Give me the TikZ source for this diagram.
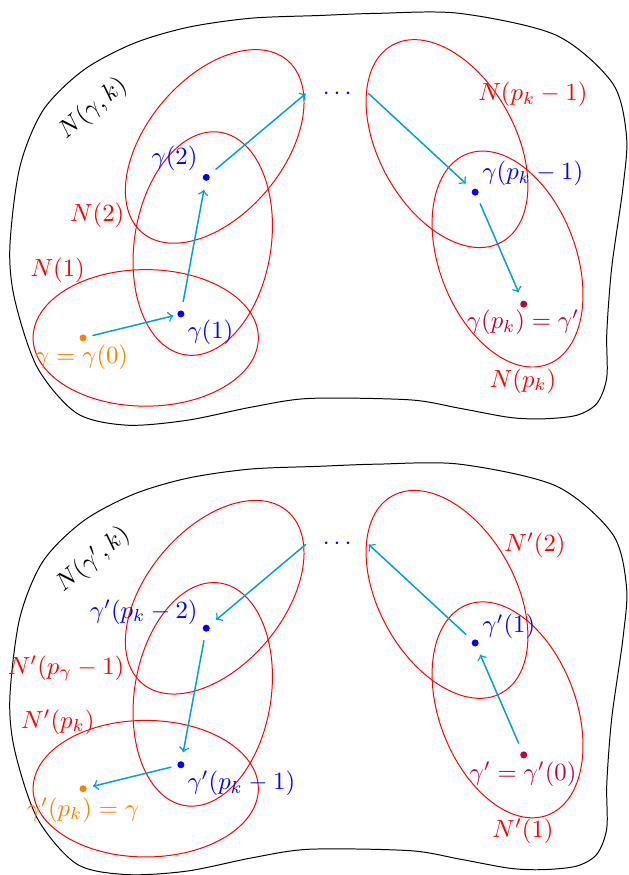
\documentclass[tikz,border=0pt]{standalone}
\usetikzlibrary{positioning}
\definecolor{walkcyan}{RGB}{0,160,210}

\begin{document}
\begin{tikzpicture}[line cap=round, line join=round,
  pt/.style={circle, fill, inner sep=0pt, minimum size=0.1cm},
  nbhd/.style={red},
  walk/.style={->, semithick, walkcyan, shorten <=3.5pt, shorten >=3.5pt},
  dotsnode/.style={blue, inner sep=0pt, minimum width=0.88cm}]

\useasboundingbox (0,0) rectangle (8.93,12.43);

% top: path from gamma to gamma'
\draw plot[smooth cycle] coordinates {(4.54,12.21) (3.55,12.17) (2.66,12.04) (1.89,11.81) (1.18,11.43) (0.61,10.86) (0.28,10.05) (0.14,8.92) (0.21,8.17) (0.53,7.21) (1.09,6.56) (1.80,6.39) (2.66,6.46) (3.59,6.65) (4.40,6.77) (5.82,6.75) (6.53,6.63) (7.24,6.50) (7.71,6.48) (8.19,6.53) (8.48,6.70) (8.62,7.07) (8.62,7.70) (8.69,8.63) (8.85,9.77) (8.90,10.50) (8.70,11.25) (7.90,11.93) (6.53,12.24) (5.35,12.24)};

\draw[nbhd] (2.07,7.63) ellipse [x radius=1.6, y radius=0.97];
\draw[nbhd, rotate around={81:(2.88,8.97)}] (2.88,8.97) ellipse [x radius=1.6, y radius=0.97];
\draw[nbhd, rotate around={50:(3.05,10.35)}] (3.05,10.35) ellipse [x radius=1.6, y radius=0.97];
\draw[nbhd, rotate around={-61:(6.35,10.39)}] (6.35,10.39) ellipse [x radius=1.6, y radius=0.97];
\draw[nbhd, rotate around={-69:(7.21,8.75)}] (7.21,8.75) ellipse [x radius=1.6, y radius=0.97];

\node[pt, orange] (g0) at (1.18,7.63) {};
\node[pt, blue] (g1) at (2.57,7.97) {};
\node[pt, blue] (g2) at (2.93,9.91) {};
\node[dotsnode] (dots) at (4.79,11.10) {$\cdots$};
\node[pt, blue] (gq1) at (6.75,9.70) {};
\node[pt, purple] (gq) at (7.44,8.11) {};

\draw[walk, shorten <=2.5pt, shorten >=1.5pt] (g0) -- (g1);
\draw[walk] (g1) -- (g2);
\draw[walk, shorten >=0pt] (g2) -- (dots.west);
\draw[walk, shorten <=0pt] (dots.east) -- (gq1);
\draw[walk] (gq1) -- (gq);

\node[rotate=40] (lk) at (1.32,10.89) {$N(\gamma,k)$};
\node[blue, anchor=east] (lg2) at (2.93,10.18) {$\gamma(2)$};
\node[red, anchor=east] (ln2) at (1.89,9.37) {$N(2)$};
\node[red] (ln1) at (0.82,8.59) {$N(1)$};
\node[blue, anchor=west] (lg1) at (2.54,7.71) {$\gamma(1)$};
\node[orange] (lg0) at (1.16,7.36) {$\gamma=\gamma(0)$};
\node[red] (lnq1) at (7.57,11.09) {$N(p_k-1)$};
\node[blue, anchor=west] (lgq1) at (6.73,9.97) {$\gamma(p_k-1)$};
\node[purple] (lgq) at (7.43,7.85) {$\gamma(p_k)=\gamma'$};
\node[red] (lnq) at (7.43,7.02) {$N(p_k)$};

% bottom: the same path walked back from gamma'
\begin{scope}[yshift=-6.404cm]
\draw plot[smooth cycle] coordinates {(4.54,12.21) (3.55,12.17) (2.66,12.04) (1.89,11.81) (1.18,11.43) (0.61,10.86) (0.28,10.05) (0.14,8.92) (0.21,8.17) (0.53,7.21) (1.09,6.56) (1.80,6.41) (2.66,6.46) (3.59,6.65) (4.40,6.77) (5.82,6.75) (6.53,6.63) (7.24,6.50) (7.71,6.48) (8.19,6.53) (8.48,6.70) (8.62,7.07) (8.62,7.70) (8.69,8.63) (8.85,9.77) (8.90,10.50) (8.70,11.25) (7.90,11.93) (6.53,12.24) (5.35,12.24)};

\draw[nbhd] (2.07,7.63) ellipse [x radius=1.6, y radius=0.97];
\draw[nbhd, rotate around={81:(2.88,8.97)}] (2.88,8.97) ellipse [x radius=1.6, y radius=0.97];
\draw[nbhd, rotate around={50:(3.05,10.35)}] (3.05,10.35) ellipse [x radius=1.6, y radius=0.97];
\draw[nbhd, rotate around={-61:(6.35,10.39)}] (6.35,10.39) ellipse [x radius=1.6, y radius=0.97];
\draw[nbhd, rotate around={-69:(7.21,8.75)}] (7.21,8.75) ellipse [x radius=1.6, y radius=0.97];

\node[pt, orange] (hk) at (1.18,7.63) {};
\node[pt, blue] (hk1) at (2.57,7.97) {};
\node[pt, blue] (hk2) at (2.93,9.91) {};
\node[dotsnode] (bdots) at (4.79,11.10) {$\cdots$};
\node[pt, blue] (h1) at (6.75,9.70) {};
\node[pt, purple] (h0) at (7.44,8.11) {};

\draw[walk] (h0) -- (h1);
\draw[walk, shorten >=0pt] (h1) -- (bdots.east);
\draw[walk, shorten <=0pt] (bdots.west) -- (hk2);
\draw[walk] (hk2) -- (hk1);
\draw[walk, shorten <=2.5pt, shorten >=2.5pt] (hk1) -- (hk);

\node[rotate=40] (mk) at (1.32,10.88) {$N(\gamma',k)$};
\node[blue, anchor=east] (mhk2) at (2.93,10.14) {$\gamma'(p_k-2)$};
\node[red, anchor=east] (mnk2) at (1.89,9.34) {$N'(p_\gamma-1)$};
\node[red] (mnk) at (0.82,8.58) {$N'(p_k)$};
\node[blue, anchor=west] (mhk1) at (2.54,7.70) {$\gamma'(p_k-1)$};
\node[orange] (mhk) at (1.18,7.33) {$\gamma'(p_k)=\gamma$};
\node[red] (mn2) at (7.60,11.09) {$N'(2)$};
\node[blue, anchor=west] (mh1) at (6.73,9.93) {$\gamma'(1)$};
\node[purple] (mh0) at (7.43,7.84) {$\gamma'=\gamma'(0)$};
\node[red] (mn1) at (7.43,7.02) {$N'(1)$};
\end{scope}

\end{tikzpicture}
\end{document}
